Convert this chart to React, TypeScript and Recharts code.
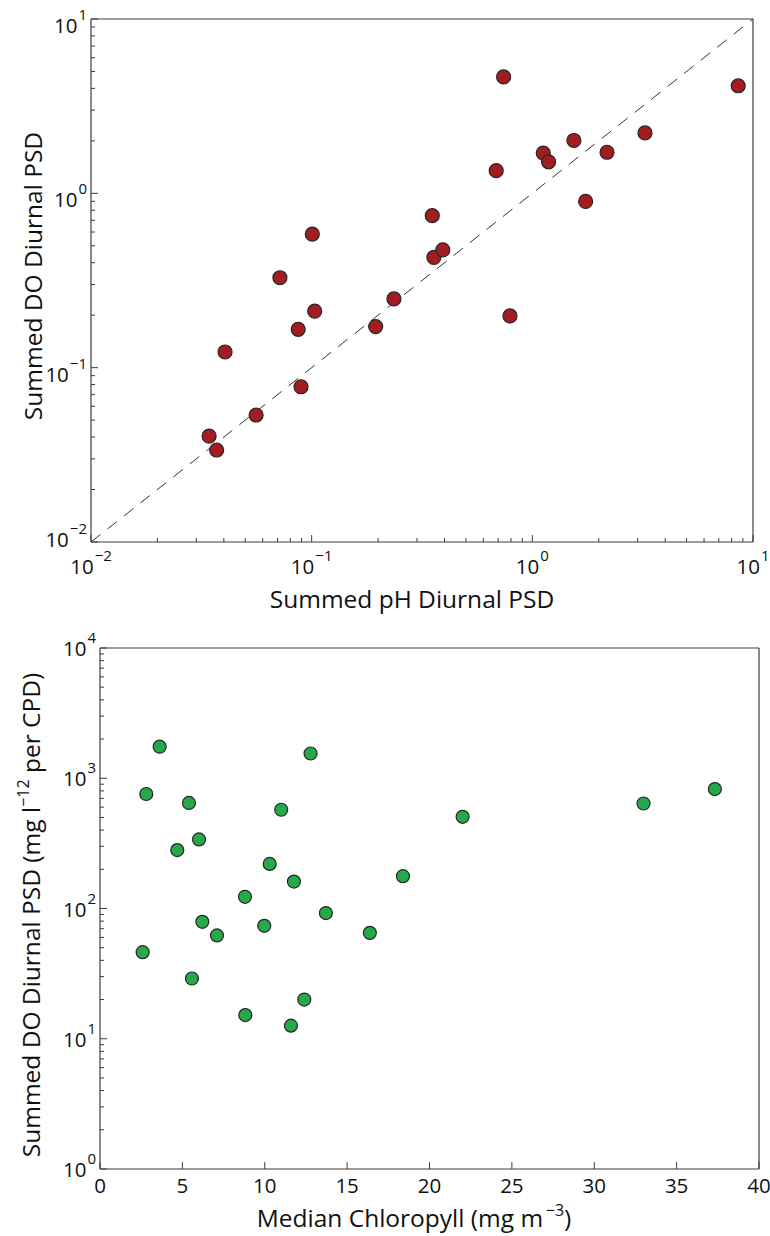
import React from "react"
import { ScatterChart, Scatter, XAxis, YAxis } from "recharts"

// top panel: summed pH vs DO diurnal PSD (log-log)
const phPsd = [
    0.0343, 0.0371, 0.0405, 0.056, 0.0718, 0.0869, 0.0895, 0.1007, 0.1032, 0.195, 0.236, 0.352,
    0.358, 0.393, 0.686, 0.741, 0.792, 1.121, 1.185, 1.543, 1.744, 2.18, 3.24, 8.57,
]
const doPsdVsPh = [
    0.0405, 0.0337, 0.123, 0.0535, 0.328, 0.166, 0.0777, 0.584, 0.211, 0.172, 0.248, 0.744,
    0.429, 0.474, 1.349, 4.65, 0.198, 1.7, 1.517, 2.01, 0.899, 1.72, 2.22, 4.14,
]

// bottom panel: median chlorophyll vs DO diurnal PSD
const chlorophyll = [
    2.59, 2.81, 3.62, 4.69, 5.4, 5.58, 6.01, 6.21, 7.1, 8.8, 8.82, 9.97,
    10.3, 11.0, 11.59, 11.77, 12.4, 12.78, 13.71, 16.38, 18.39, 22.01, 32.99, 37.32,
]
const doPsdVsChl = [
    46.2, 757, 1746, 281, 646, 29.0, 339, 79, 62.1, 123, 15.2, 73.6,
    220, 573, 12.6, 161, 20.0, 1549, 92.3, 65.0, 177, 506, 640, 826,
]

const phDecades = [0.01, 0.1, 1, 10]
const doDecades = [1, 10, 100, 1000, 10000]
const chlTicks = [0, 5, 10, 15, 20, 25, 30, 35, 40]

// one-to-one reference line
const oneToOneX = [0.01, 10]
const oneToOneY = [0.01, 10]

const AXIS = "#3d3d3d"
const TEXT = "#111"
const FONT = "'Open Sans', sans-serif"
const TICK_FS = 20.5
const EXP_FS = 15

const withMinor = (decades: number[]) => {
    const out: number[] = []
    decades.forEach((d, i) => {
        out.push(d)
        if (i < decades.length - 1) {
            for (let k = 2; k <= 9; k++) out.push(Number((d * k).toPrecision(3)))
        }
    })
    return out
}

const zip = (xs: number[], ys: number[]) => xs.map((x, i) => ({ x, y: ys[i] }))

const expText = (v: number) => {
    const e = Math.round(Math.log10(v))
    return e < 0 ? "\u2212" + Math.abs(e) : String(e)
}

type Side = "bottom" | "top" | "left" | "right"

interface TickOpts {
    side: Side
    majors: number[] | null
    log?: boolean
    label?: boolean
    labelGap?: number
    lowest?: number
    lowestGap?: number
}

// inward ticks (matlab style), labels only on majors
function makeTick({ side, majors, log, label, labelGap = 0, lowest, lowestGap }: TickOpts) {
    return (props: any) => {
        const { x, y, payload } = props
        const v = payload.value as number
        const major = majors ? majors.includes(v) : true
        const len = major ? 7 : 4
        let line
        if (side === "bottom") line = <line x1={x} x2={x} y1={y} y2={y - len} />
        else if (side === "top") line = <line x1={x} x2={x} y1={y} y2={y + len} />
        else if (side === "left") line = <line x1={x} x2={x + len} y1={y} y2={y} />
        else line = <line x1={x} x2={x - len} y1={y} y2={y} />

        let text = null
        if (label && major) {
            const body = log ? (
                <>
                    10
                    <tspan dx={1} dy={-13} fontSize={EXP_FS}>
                        {expText(v)}
                    </tspan>
                </>
            ) : (
                String(v)
            )
            if (side === "bottom") {
                text = (
                    <text x={x} y={y + labelGap} textAnchor="middle" fontSize={TICK_FS} fill={TEXT} fontFamily={FONT}>
                        {body}
                    </text>
                )
            } else {
                const gap = lowest !== undefined && v === lowest && lowestGap !== undefined ? lowestGap : labelGap
                text = (
                    <text x={x - 4} y={y + gap} textAnchor="end" fontSize={TICK_FS} fill={TEXT} fontFamily={FONT}>
                        {body}
                    </text>
                )
            }
        }
        return (
            <g>
                <g stroke={AXIS} strokeWidth={1}>{line}</g>
                {text}
            </g>
        )
    }
}

const dot = (fill: string, r: number) => (props: any) => (
    <circle cx={props.cx} cy={props.cy} r={r} fill={fill} stroke="#262626" strokeWidth={1.2} />
)

const titleStyle: React.CSSProperties = {
    position: "absolute",
    fontFamily: FONT,
    fontSize: 24.5,
    lineHeight: "24.5px",
    color: TEXT,
    whiteSpace: "nowrap",
}

const supStyle: React.CSSProperties = {
    fontSize: 16,
    position: "relative",
    top: -11,
}

const axisLine = { stroke: AXIS, strokeWidth: 1.2 }

export default function App() {
    const phTicks = withMinor(phDecades)
    const doTicks = withMinor(doDecades)
    const topData = zip(phPsd, doPsdVsPh)
    const bottomData = zip(chlorophyll, doPsdVsChl)
    const diag = zip(oneToOneX, oneToOneY)

    return (
        <div style={{ position: "absolute", left: 0, top: 0, width: 770, height: 1236, background: "#fff" }}>
            <div style={{ position: "absolute", left: 0, top: 0 }}>
                <ScatterChart width={770} height={620} margin={{ top: 18, right: 16, bottom: 77, left: 90 }}>
                    <XAxis
                        dataKey="x"
                        type="number"
                        scale="log"
                        domain={[0.01, 10]}
                        ticks={phTicks}
                        interval={0}
                        height={1}
                        tickSize={0}
                        tickMargin={0}
                        axisLine={axisLine}
                        tick={makeTick({ side: "bottom", majors: phDecades, log: true, label: true, labelGap: 32 })}
                    />
                    <XAxis
                        xAxisId="top"
                        orientation="top"
                        dataKey="x"
                        type="number"
                        scale="log"
                        domain={[0.01, 10]}
                        ticks={phTicks}
                        interval={0}
                        height={1}
                        tickSize={0}
                        tickMargin={0}
                        axisLine={axisLine}
                        tick={makeTick({ side: "top", majors: phDecades })}
                    />
                    <YAxis
                        dataKey="y"
                        type="number"
                        scale="log"
                        domain={[0.01, 10]}
                        ticks={phTicks}
                        interval={0}
                        width={1}
                        tickSize={0}
                        tickMargin={0}
                        axisLine={axisLine}
                        tick={makeTick({
                            side: "left",
                            majors: phDecades,
                            log: true,
                            label: true,
                            labelGap: 14,
                            lowest: 0.01,
                            lowestGap: 5,
                        })}
                    />
                    <YAxis
                        yAxisId="right"
                        orientation="right"
                        dataKey="y"
                        type="number"
                        scale="log"
                        domain={[0.01, 10]}
                        ticks={phTicks}
                        interval={0}
                        width={1}
                        tickSize={0}
                        tickMargin={0}
                        axisLine={axisLine}
                        tick={makeTick({ side: "right", majors: phDecades })}
                    />
                    <Scatter
                        data={diag}
                        line={{ stroke: "#333", strokeWidth: 1, strokeDasharray: "12 9" }}
                        shape={() => <g />}
                        isAnimationActive={false}
                    />
                    <Scatter data={topData} shape={dot("#A21C22", 7)} isAnimationActive={false} />
                </ScatterChart>
            </div>

            <div style={{ position: "absolute", left: 0, top: 620 }}>
                <ScatterChart width={770} height={616} margin={{ top: 27, right: 10, bottom: 66, left: 99 }}>
                    <XAxis
                        dataKey="x"
                        type="number"
                        domain={[0, 40]}
                        ticks={chlTicks}
                        interval={0}
                        height={1}
                        tickSize={0}
                        tickMargin={0}
                        axisLine={axisLine}
                        tick={makeTick({ side: "bottom", majors: null, label: true, labelGap: 24 })}
                    />
                    <XAxis
                        xAxisId="top"
                        orientation="top"
                        dataKey="x"
                        type="number"
                        domain={[0, 40]}
                        ticks={chlTicks}
                        interval={0}
                        height={1}
                        tickSize={0}
                        tickMargin={0}
                        axisLine={axisLine}
                        tick={makeTick({ side: "top", majors: null })}
                    />
                    <YAxis
                        dataKey="y"
                        type="number"
                        scale="log"
                        domain={[1, 10000]}
                        ticks={doTicks}
                        interval={0}
                        width={1}
                        tickSize={0}
                        tickMargin={0}
                        axisLine={axisLine}
                        tick={makeTick({ side: "left", majors: doDecades, log: true, label: true, labelGap: 8 })}
                    />
                    <YAxis
                        yAxisId="right"
                        orientation="right"
                        dataKey="y"
                        type="number"
                        scale="log"
                        domain={[1, 10000]}
                        ticks={doTicks}
                        interval={0}
                        width={1}
                        tickSize={0}
                        tickMargin={0}
                        axisLine={axisLine}
                        tick={makeTick({ side: "right", majors: doDecades })}
                    />
                    <Scatter data={bottomData} shape={dot("#26A94A", 6.5)} isAnimationActive={false} />
                </ScatterChart>
            </div>

            <div style={{ ...titleStyle, left: 412, top: 599, transform: "translate(-50%, -50%)" }}>
                Summed pH Diurnal PSD
            </div>
            <div style={{ ...titleStyle, left: 33, top: 276, transform: "translate(-50%, -50%) rotate(-90deg)" }}>
                Summed DO Diurnal PSD
            </div>
            <div style={{ ...titleStyle, left: 414, top: 1220, transform: "translate(-50%, -50%)" }}>
                Median Chloropyll (mg m<span style={supStyle}>{"\u2009\u22123"}</span>)
            </div>
            <div style={{ ...titleStyle, left: 33, top: 915, transform: "translate(-50%, -50%) rotate(-90deg)" }}>
                Summed DO Diurnal PSD (mg l<span style={supStyle}>{"\u221212"}</span> per CPD)
            </div>
        </div>
    )
}
